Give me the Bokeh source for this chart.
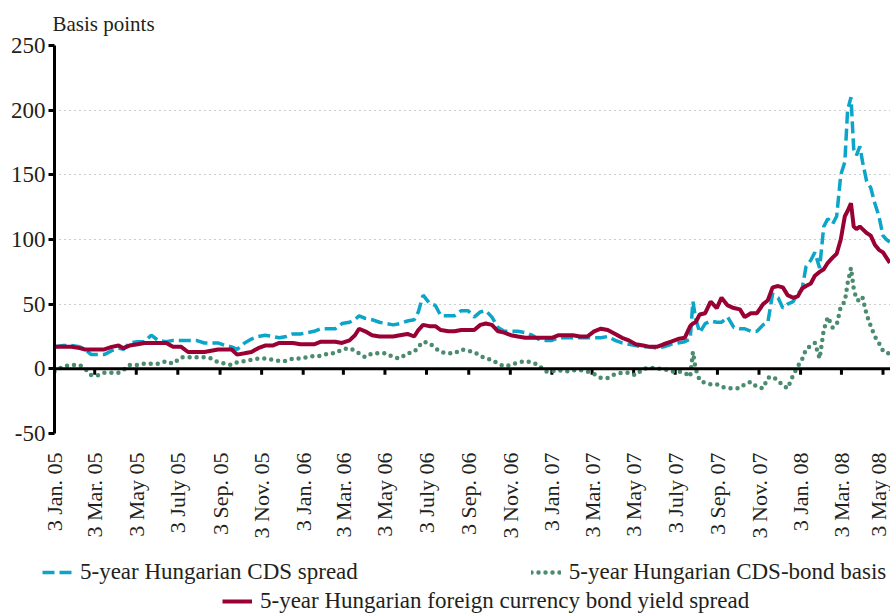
import pandas as pd
from bokeh.plotting import figure
from bokeh.layouts import column
from bokeh.models import (FixedTicker, Span, Legend, LegendItem, Range1d,
                          ColumnDataSource)
from bokeh.embed import file_html
from bokeh.resources import INLINE

# ---------------- data ----------------
dates = [
    "2005-01-03","2005-01-16","2005-01-28","2005-02-09","2005-02-17","2005-02-26",
    "2005-03-09","2005-03-17","2005-03-28","2005-04-07","2005-04-14","2005-04-23",
    "2005-05-05","2005-05-15","2005-05-25","2005-06-04","2005-06-16","2005-06-26",
    "2005-07-08","2005-07-18","2005-07-30","2005-08-11","2005-08-21","2005-08-31",
    "2005-09-11","2005-09-20","2005-09-28","2005-10-09","2005-10-19","2005-10-29",
    "2005-11-08","2005-11-19","2005-11-29","2005-12-09","2005-12-19","2005-12-30",
    "2006-01-09","2006-01-19","2006-01-29","2006-02-09","2006-02-19","2006-03-01",
    "2006-03-12","2006-03-20","2006-03-26","2006-04-04","2006-04-14","2006-04-25",
    "2006-05-05","2006-05-15","2006-05-25","2006-06-05","2006-06-15","2006-06-21",
    "2006-06-28","2006-07-07","2006-07-16","2006-07-24","2006-08-04","2006-08-13",
    "2006-08-23","2006-09-02","2006-09-11","2006-09-20","2006-09-28","2006-10-07",
    "2006-10-16","2006-10-25","2006-11-04","2006-11-14","2006-11-25","2006-12-05",
    "2006-12-14","2006-12-24",
    "2007-01-03","2007-01-13","2007-01-24","2007-02-03","2007-02-13","2007-02-24",
    "2007-03-06","2007-03-16","2007-03-26","2007-04-06","2007-04-16","2007-04-26",
    "2007-05-06","2007-05-17","2007-05-27","2007-06-06","2007-06-16","2007-06-27",
    "2007-07-07","2007-07-17","2007-07-25","2007-07-29","2007-08-02","2007-08-08",
    "2007-08-16","2007-08-24","2007-09-02","2007-09-09","2007-09-18","2007-09-27",
    "2007-10-06","2007-10-13","2007-10-22","2007-10-31","2007-11-09","2007-11-16",
    "2007-11-23","2007-12-01","2007-12-08","2007-12-15","2007-12-23","2007-12-30",
    "2008-01-05","2008-01-11","2008-01-18","2008-01-24","2008-01-31","2008-02-06",
    "2008-02-12","2008-02-19","2008-02-25","2008-03-02","2008-03-08","2008-03-12",
    "2008-03-17","2008-03-21","2008-03-25","2008-03-30","2008-04-03","2008-04-09",
    "2008-04-15","2008-04-21","2008-04-27","2008-05-03","2008-05-08","2008-05-13",
]

cds_spread = [
    17, 18, 18, 17, 15, 11, 11, 11, 14, 16, 15, 20, 21, 21, 26, 22, 21, 22,
    22, 22, 22, 20, 20, 20, 18, 17, 15, 20, 23, 25, 26, 25, 24, 25, 27, 27,
    28, 29, 31, 31, 31, 35, 36, 38, 41, 39, 38, 36, 35, 34, 35, 37, 38, 44,
    57, 51, 49, 41, 41, 41, 45, 45, 40, 44, 45, 40, 32, 29, 29, 29, 28, 26,
    23, 22,
    22, 24, 24, 24, 24, 24, 24, 24, 25, 22, 20, 19, 18, 17, 17, 16, 17, 19,
    20, 21, 23, 52, 39, 28, 35, 37, 36, 36, 40, 32, 31, 31, 29, 29, 34, 36,
    58, 55, 47, 50, 52, 58,
    61, 79, 84, 90, 78, 110, 116, 112, 118, 150, 160, 200, 210, 170, 165, 172,
    160, 145, 140, 128, 118, 103, 100, 98,
]

bond_spread = [
    17, 17, 17, 16, 15, 15, 15, 15, 17, 18, 16, 18, 19, 20, 20, 20, 20, 17,
    17, 13, 13, 13, 14, 15, 15, 15, 11, 12, 13, 16, 18, 18, 20, 20, 20, 19,
    19, 19, 21, 21, 21, 20, 22, 26, 31, 29, 26, 25, 25, 25, 26, 27, 25, 30,
    34, 33, 33, 30, 29, 29, 30, 30, 30, 34, 35, 34, 29, 28, 26, 25, 24, 24,
    24, 24,
    24, 26, 26, 26, 25, 25, 29, 31, 30, 27, 24, 22, 19, 18, 17, 17, 19, 21,
    23, 24, 33, 35, 36, 42, 43, 52, 47, 55, 49, 47, 46, 40, 43, 43, 50, 53,
    63, 64, 63, 57, 55, 56,
    62, 64, 66, 72, 75, 77, 82, 86, 89, 100, 118, 122, 128, 110, 108, 110,
    108, 105, 103, 96, 92, 90, 86, 82,
]

cds_bond_basis = [
    -2, 2, 3, 3, 0, -5, -5, -3, -3, -3, -1, 3, 3, 4, 4, 4, 6, 4,
    9, 9, 9, 9, 8, 5, 4, 3, 5, 6, 7, 8, 8, 7, 6, 6, 8, 8,
    9, 10, 10, 12, 12, 15, 16, 14, 12, 9, 12, 12, 12, 9, 8, 12, 13, 17,
    21, 20, 16, 13, 12, 12, 15, 14, 13, 10, 8, 7, 4, 2, 3, 5, 6, 5,
    3, -2,
    -2, -1, -2, -1, -1, -2, -4, -7, -7, -4, -3, -3, -5, 0, 1, 0, 0, -2,
    -2, -3, -6, 13, 0, -9, -11, -12, -12, -14, -15, -15, -15, -12, -10, -14, -15, -7,
    -6, -9, -13, -15, -5, 2,
    7, 15, 18, 20, 8, 30, 40, 32, 34, 48, 52, 66, 78, 62, 54, 52,
    55, 42, 33, 25, 20, 14, 12, 12,
]

tick_dates = [
    "2005-01-03", "2005-03-03", "2005-05-03", "2005-07-03", "2005-09-03",
    "2005-11-03", "2006-01-03", "2006-03-03", "2006-05-03", "2006-07-03",
    "2006-09-03", "2006-11-03", "2007-01-03", "2007-03-03", "2007-05-03",
    "2007-07-03", "2007-09-03", "2007-11-03", "2008-01-03", "2008-03-03",
    "2008-05-03",
]
tick_labels = [
    "3 Jan. 05", "3 Mar. 05", "3 May 05", "3 July 05", "3 Sep. 05",
    "3 Nov. 05", "3 Jan. 06", "3 Mar. 06", "3 May 06", "3 July 06",
    "3 Sep. 06", "3 Nov. 06", "3 Jan. 07", "3 Mar. 07", "3 May 07",
    "3 July 07", "3 Sep. 07", "3 Nov. 07", "3 Jan. 08", "3 Mar. 08",
    "3 May 08",
]
y_ticks = [-50, 0, 50, 100, 150, 200, 250]
y_tick_labels = ["-50", "0", "50", "100", "150", "200", "250"]

series_labels = [
    "5-year Hungarian CDS spread",
    "5-year Hungarian CDS-bond basis",
    "5-year Hungarian foreign currency bond yield spread",
]

# ---------------- styling ----------------
FONT = "Liberation Serif"
TXT = "#231f20"
CYAN = "#0aa5c9"
RED = "#990033"
GREEN = "#4b8c70"
CDS_STYLE = dict(line_color=CYAN, line_width=3.5, line_dash="12 5")
BASIS_STYLE = dict(line_color=GREEN, line_width=4.5, line_dash="0 7", line_cap="round")
BOND_STYLE = dict(line_color=RED, line_width=4)

src = ColumnDataSource(dict(
    date=pd.to_datetime(dates),
    cds=cds_spread,
    bond=bond_spread,
    basis=cds_bond_basis,
))

tick_dt = pd.to_datetime(tick_dates)
tick_ms = [int(t.value // 10**6) for t in tick_dt]

p = figure(frame_width=836, frame_height=388, x_axis_type="datetime",
           output_backend="svg", toolbar_location=None,
           x_range=Range1d(pd.Timestamp("2005-01-03"), pd.Timestamp("2008-05-14")),
           y_range=Range1d(-50, 250),
           min_border_left=54, min_border_right=0, min_border_top=44,
           min_border_bottom=120)

p.outline_line_color = None
p.background_fill_color = "white"
p.border_fill_color = "white"

p.title.text = "Basis points"
p.title.text_font = FONT
p.title.text_font_size = "21px"
p.title.text_font_style = "normal"
p.title.text_color = TXT
p.title.align = "left"
p.title.offset = -2
p.title.standoff = 19

# grid
p.xgrid.visible = False
p.ygrid.ticker = FixedTicker(ticks=y_ticks)
p.ygrid.grid_line_color = "#9a9a9a"
p.ygrid.grid_line_dash = "1 4"
p.ygrid.grid_line_width = 1

# y axis
p.yaxis.ticker = FixedTicker(ticks=y_ticks)
p.yaxis.major_label_overrides = {t: s for t, s in zip(y_ticks, y_tick_labels)}
p.yaxis.axis_line_color = "black"
p.yaxis.axis_line_width = 3
p.yaxis.major_tick_line_color = "black"
p.yaxis.major_tick_line_width = 3
p.yaxis.major_tick_out = 6
p.yaxis.major_tick_in = 0
p.yaxis.minor_tick_line_color = None
p.yaxis.major_label_standoff = 3
p.yaxis.major_label_text_font = FONT
p.yaxis.major_label_text_font_size = "23px"
p.yaxis.major_label_text_color = TXT

# x axis (labels only; ticks drawn on the zero line)
p.xaxis.ticker = FixedTicker(ticks=tick_ms)
p.xaxis.major_label_overrides = {ms: lab for ms, lab in zip(tick_ms, tick_labels)}
p.xaxis.axis_line_color = None
p.xaxis.major_tick_line_color = None
p.xaxis.minor_tick_line_color = None
p.xaxis.major_label_orientation = 3.14159265 / 2
p.xaxis.major_label_standoff = 13
p.xaxis.major_label_text_font = FONT
p.xaxis.major_label_text_font_size = "22px"
p.xaxis.major_label_text_color = TXT

# zero line with downward ticks
p.add_layout(Span(location=0, dimension="width", line_color="black", line_width=3))
p.segment(x0=tick_dt, y0=0, x1=tick_dt, y1=-4.6, line_color="black", line_width=3)

p.line("date", "cds", source=src, **CDS_STYLE)
p.line("date", "basis", source=src, **BASIS_STYLE)
p.line("date", "bond", source=src, **BOND_STYLE)

# ---------------- legend strip below ----------------
lg = figure(width=890, height=61, output_backend="svg", toolbar_location=None,
            x_range=Range1d(0, 1), y_range=Range1d(0, 1),
            x_axis_location=None, y_axis_location=None,
            min_border_left=0, min_border_right=0, min_border_top=0,
            min_border_bottom=0)
if "frame_align" in lg.properties():
    lg.frame_align = False
lg.outline_line_color = None
lg.xgrid.visible = False
lg.ygrid.visible = False
nan = float("nan")
k_cds = lg.line(x=[nan], y=[nan], **CDS_STYLE)
k_basis = lg.line(x=[nan], y=[nan], **BASIS_STYLE)
k_bond = lg.line(x=[nan], y=[nan], **BOND_STYLE)

def make_legend(items, spacing, loc):
    return Legend(items=items, orientation="horizontal", location=loc,
                  spacing=spacing, padding=0, margin=0,
                  border_line_color=None, background_fill_alpha=0,
                  glyph_width=30, glyph_height=24, label_height=24,
                  label_standoff=8, label_text_font=FONT,
                  label_text_font_size="23px", label_text_color=TXT)

leg1 = make_legend([LegendItem(label=series_labels[0], renderers=[k_cds]),
                    LegendItem(label=series_labels[1], renderers=[k_basis])],
                   173, (42, 29))
leg2 = make_legend([LegendItem(label=series_labels[2], renderers=[k_bond])],
                   0, (222, 0))
lg.add_layout(leg1)
lg.add_layout(leg2)

layout = column(p, lg, spacing=0)
open("out.html", "w").write(file_html(layout, INLINE))
